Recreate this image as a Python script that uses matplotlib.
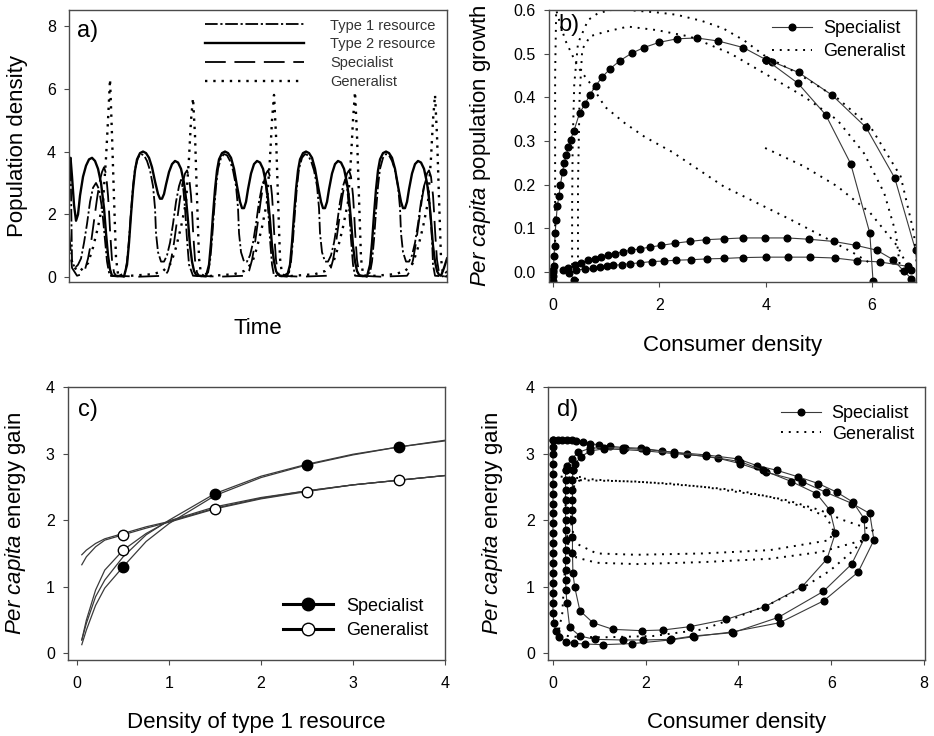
import matplotlib
matplotlib.use('Agg')
import matplotlib.pyplot as plt

plt.rcParams['font.family'] = ['Liberation Sans', 'DejaVu Sans']
plt.rcParams['mathtext.fontset'] = 'custom'
plt.rcParams['mathtext.rm'] = 'Liberation Sans'
plt.rcParams['mathtext.it'] = 'Liberation Sans:italic'

# ---------------- panel a: time series ----------------
t_type2 = [0, 1.5, 3, 5, 7, 9, 11, 14, 17, 20, 23, 26, 29, 32, 35, 37, 39, 41, 43,
           55,
           58, 60, 62, 64, 66, 68, 71, 74, 77, 80, 83, 86, 89, 91, 93, 95, 97, 100, 103, 106,
           109, 112, 115, 117, 119, 121, 123, 125, 127, 129,
           137,
           140, 142, 144, 146, 148, 150, 153, 156, 159, 162, 165, 168, 171, 173, 175, 177, 179,
           182, 185, 188, 191, 194, 197, 199, 201, 203, 205, 207, 209, 211,
           218,
           221, 223, 225, 227, 229, 231, 234, 237, 240, 243, 246, 249, 252, 254, 256, 258, 260,
           263, 266, 269, 272, 275, 278, 280, 282, 284, 286, 288, 290, 292,
           298,
           301, 303, 305, 307, 309, 311, 314, 317, 320, 323, 326, 329, 332, 334, 336, 338, 340,
           343, 346, 349, 352, 355, 358, 360, 362, 364, 366, 368, 370, 372,
           375, 378]
type2 = [2.9, 3.8, 3.2, 2.3, 1.8, 2.0, 2.6, 3.2, 3.55, 3.75, 3.8, 3.7, 3.45, 3.0, 2.2, 1.4, 0.7, 0.25, 0.05,
         0.03,
         0.4, 1.1, 2.0, 2.8, 3.4, 3.75, 3.95, 4.0, 3.95, 3.8, 3.5, 3.05, 2.65, 2.5, 2.5, 2.65, 2.95,
         3.35, 3.6, 3.7, 3.65, 3.45, 3.0, 2.5, 1.8, 1.0, 0.5, 0.2, 0.08, 0.05,
         0.03,
         0.4, 1.1, 2.0, 2.8, 3.4, 3.75, 3.95, 4.0, 3.95, 3.8, 3.45, 2.9, 2.4, 2.2, 2.2, 2.4, 2.8,
         3.3, 3.6, 3.7, 3.65, 3.45, 3.0, 2.5, 1.8, 1.0, 0.5, 0.2, 0.08, 0.05,
         0.03,
         0.4, 1.1, 2.0, 2.8, 3.4, 3.75, 3.95, 4.0, 3.95, 3.8, 3.45, 2.9, 2.4, 2.2, 2.2, 2.4, 2.8,
         3.3, 3.6, 3.7, 3.65, 3.45, 3.0, 2.5, 1.8, 1.0, 0.5, 0.2, 0.08, 0.05,
         0.03,
         0.4, 1.1, 2.0, 2.8, 3.4, 3.75, 3.95, 4.0, 3.95, 3.8, 3.45, 2.9, 2.4, 2.2, 2.2, 2.4, 2.8,
         3.3, 3.6, 3.7, 3.65, 3.45, 3.0, 2.5, 1.8, 1.0, 0.5, 0.2, 0.08, 0.05,
         0.3, 0.6]

t_type1 = [0, 1.5, 3, 6, 9, 12, 15, 18, 21, 24, 27, 30, 33, 36, 38, 40, 41,
           49, 56, 58, 60, 62, 64, 66, 69, 72, 75, 78, 81, 84, 86, 87, 89, 92, 95, 98, 101, 104,
           107, 110, 112, 114, 116, 118, 120, 124,
           132, 139, 141, 143, 145, 147, 149, 152, 155, 158, 161, 164, 167, 169, 170, 172, 175,
           178, 181, 184, 187, 190, 193, 195, 197, 199, 201, 203, 205,
           213, 220, 222, 224, 226, 228, 230, 233, 236, 239, 242, 245, 248, 250, 251, 253, 256,
           259, 262, 265, 268, 271, 274, 276, 278, 280, 282, 284, 286,
           294, 301, 303, 305, 307, 309, 311, 314, 317, 320, 323, 326, 329, 331, 332, 334, 337,
           340, 343, 346, 349, 352, 355, 357, 359, 361, 363, 364, 366,
           374, 378]
type1 = [3.5, 3.8, 0.5, 0.3, 0.4, 0.6, 1.1, 1.7, 2.4, 2.85, 3.0, 2.8, 2.2, 1.2, 0.5, 0.15, 0.05,
         0.03, 0.15, 0.5, 1.2, 2.1, 2.9, 3.45, 3.8, 3.92, 3.88, 3.7, 3.4, 2.9, 2.2, 1.4, 0.8, 0.5,
         0.5, 0.7, 1.1, 1.7, 2.4, 2.9, 3.1, 2.9, 2.2, 1.2, 0.4, 0.05,
         0.03, 0.15, 0.5, 1.2, 2.1, 2.9, 3.45, 3.8, 3.92, 3.88, 3.7, 3.4, 2.9, 2.2, 1.4, 0.8, 0.5,
         0.5, 0.7, 1.1, 1.7, 2.4, 2.9, 3.1, 2.9, 2.2, 1.2, 0.4, 0.05,
         0.03, 0.15, 0.5, 1.2, 2.1, 2.9, 3.45, 3.8, 3.92, 3.88, 3.7, 3.4, 2.9, 2.2, 1.4, 0.8, 0.5,
         0.5, 0.7, 1.1, 1.7, 2.4, 2.9, 3.1, 2.9, 2.2, 1.2, 0.4, 0.05,
         0.03, 0.15, 0.5, 1.2, 2.1, 2.9, 3.45, 3.8, 3.92, 3.88, 3.7, 3.4, 2.9, 2.2, 1.4, 0.8, 0.5,
         0.5, 0.7, 1.1, 1.7, 2.4, 2.9, 3.1, 2.9, 2.2, 1.2, 0.4, 0.05,
         0.03, 0.2]

t_spec = [0, 3, 8, 13, 16, 19, 22, 25, 28, 31, 33, 35, 37, 39, 40, 41, 42, 43, 45, 47,
          70,
          96, 99, 102, 105, 108, 111, 114, 116, 118, 120, 122, 123, 124, 125, 126, 128, 130,
          150,
          177, 180, 183, 186, 189, 192, 195, 197, 199, 201, 203, 204, 205, 206, 207, 209, 211,
          232,
          258, 261, 264, 267, 270, 273, 276, 278, 280, 282, 284, 285, 286, 287, 288, 290, 292,
          312,
          338, 341, 344, 347, 350, 353, 356, 358, 360, 362, 364, 365, 366, 367, 368, 370, 372,
          378]
spec = [1.5, 0.3, 0.05, 0.1, 0.25, 0.6, 1.1, 1.8, 2.5, 3.1, 3.35, 3.5, 3.3, 2.6, 2.1, 1.5, 1.0, 0.55, 0.15, 0.05,
        0.02,
        0.05, 0.2, 0.55, 1.1, 1.8, 2.5, 3.05, 3.3, 3.4, 3.2, 2.6, 2.1, 1.5, 1.0, 0.55, 0.15, 0.05,
        0.02,
        0.05, 0.2, 0.55, 1.1, 1.8, 2.5, 3.05, 3.3, 3.4, 3.2, 2.6, 2.1, 1.5, 1.0, 0.55, 0.15, 0.05,
        0.02,
        0.05, 0.2, 0.55, 1.1, 1.8, 2.5, 3.05, 3.3, 3.4, 3.2, 2.6, 2.1, 1.5, 1.0, 0.55, 0.15, 0.05,
        0.02,
        0.05, 0.2, 0.55, 1.1, 1.8, 2.5, 3.05, 3.3, 3.4, 3.2, 2.6, 2.1, 1.5, 1.0, 0.55, 0.15, 0.05,
        0.02]

t_gen = [0, 4, 8, 11, 19, 24, 29, 34, 37, 39, 41, 43, 45, 47, 49, 53,
         84, 94, 102, 107, 112, 117, 120, 122, 124, 126, 128, 130, 132, 136,
         165, 175, 183, 188, 193, 198, 201, 203, 205, 207, 209, 211, 213, 217,
         246, 256, 264, 269, 274, 279, 282, 284, 286, 288, 290, 292, 294, 298,
         326, 336, 344, 349, 354, 359, 362, 364, 366, 368, 370, 372, 374, 378]
gen = [0.8, 0.4, 0.2, 0.2, 0.45, 0.95, 1.6, 2.4, 3.8, 5.0, 6.3, 4.5, 2.5, 0.6, 0.1, 0.03,
       0.1, 0.2, 0.45, 0.95, 1.6, 2.4, 3.8, 5.0, 5.7, 4.5, 2.5, 0.6, 0.1, 0.03,
       0.1, 0.2, 0.45, 0.95, 1.6, 2.4, 3.8, 5.0, 5.8, 4.5, 2.5, 0.6, 0.1, 0.03,
       0.1, 0.2, 0.45, 0.95, 1.6, 2.4, 3.8, 5.0, 5.9, 4.5, 2.5, 0.6, 0.1, 0.03,
       0.1, 0.2, 0.45, 0.95, 1.6, 2.4, 3.8, 5.0, 5.8, 4.5, 2.5, 0.6, 0.1, 0.03]

# ---------------- panel b: growth vs consumer density ----------------
b_spec_rise_x = [0.0, 0.0, 0.0, 0.0, 0.01, 0.02, 0.03, 0.04, 0.06, 0.08, 0.11, 0.14, 0.18, 0.21,
                 0.25, 0.29, 0.33, 0.39, 0.50, 0.60, 0.69, 0.80, 0.93, 1.08, 1.26, 1.48, 1.71,
                 2.00, 2.33, 2.70, 3.11, 3.58, 4.01]
b_spec_rise_y = [-0.02, -0.01, 0.0, 0.005, 0.013, 0.036, 0.059, 0.089, 0.12, 0.15, 0.173, 0.2, 0.23,
                 0.249, 0.268, 0.287, 0.303, 0.322, 0.364, 0.384, 0.405, 0.426, 0.447, 0.466, 0.484,
                 0.501, 0.514, 0.526, 0.534, 0.536, 0.529, 0.514, 0.486]
b_spec_outer_x = [4.01, 4.12, 4.62, 5.25, 5.89, 6.43, 6.82, 6.88]
b_spec_outer_y = [0.486, 0.482, 0.457, 0.405, 0.331, 0.215, 0.05, -0.02]
b_spec_inner_x = [4.01, 4.61, 5.13, 5.60, 5.96, 6.02]
b_spec_inner_y = [0.486, 0.432, 0.36, 0.248, 0.089, -0.02]
b_spec_low1_x = [6.74, 6.60, 6.40, 6.09, 5.70, 5.28, 4.82, 4.40, 3.98, 3.57, 3.22, 2.88, 2.57, 2.30,
                 2.04, 1.82, 1.64, 1.46, 1.31, 1.16, 1.04, 0.91, 0.79, 0.66, 0.53, 0.41, 0.28, 0.19]
b_spec_low1_y = [-0.015, 0.002, 0.028, 0.05, 0.061, 0.070, 0.075, 0.078, 0.078, 0.078, 0.076, 0.074,
                 0.070, 0.066, 0.061, 0.057, 0.053, 0.050, 0.046, 0.042, 0.039, 0.034, 0.030, 0.027,
                 0.021, 0.015, 0.009, 0.004]
b_spec_low2_x = [6.74, 6.67, 6.15, 5.72, 5.30, 4.84, 4.42, 4.01, 3.58, 3.21, 2.89, 2.59, 2.31, 2.08,
                 1.86, 1.64, 1.45, 1.29, 1.13, 1.01, 0.88, 0.75, 0.60, 0.44, 0.31, 0.40]
b_spec_low2_y = [0.004, 0.013, 0.023, 0.026, 0.032, 0.034, 0.034, 0.034, 0.033, 0.031, 0.030, 0.028,
                 0.027, 0.025, 0.024, 0.021, 0.019, 0.017, 0.015, 0.013, 0.011, 0.008, 0.007, 0.004,
                 -0.002, -0.018]

b_gen1_x = [0.36, 0.36, 0.37, 0.40, 0.47, 0.66, 0.85, 1.1, 1.4, 2.0, 2.33, 2.8, 3.2, 3.6, 3.96,
            4.6, 5.35, 5.97, 6.54, 6.79, 6.87]
b_gen1_y = [-0.02, 0.15, 0.29, 0.43, 0.524, 0.577, 0.593, 0.6, 0.6, 0.594, 0.589, 0.575, 0.558,
            0.53, 0.497, 0.455, 0.398, 0.333, 0.219, 0.089, -0.02]
b_gen2_x = [0.47, 0.47, 0.5, 0.55, 0.7, 0.98, 1.41, 1.95, 2.58, 3.33, 4.09, 4.72, 5.35, 5.85,
            6.23, 6.45, 6.54]
b_gen2_y = [-0.02, 0.2, 0.4, 0.51, 0.54, 0.55, 0.562, 0.554, 0.539, 0.501, 0.447, 0.402, 0.348,
            0.272, 0.181, 0.089, -0.002]
b_gen3_x = [0.04, 0.04, 0.04, 0.06, 0.12, 0.23, 0.47, 0.70, 0.98, 1.35, 1.73, 2.24, 3.21, 4.47,
            5.1, 5.66, 5.97]
b_gen3_y = [-0.02, 0.2, 0.45, 0.6, 0.575, 0.531, 0.469, 0.432, 0.378, 0.341, 0.309, 0.275, 0.196,
            0.12, 0.08, 0.043, 0.02]
b_gen4_x = [3.99, 4.72, 5.35, 5.97, 6.48, 6.67]
b_gen4_y = [0.284, 0.242, 0.196, 0.135, 0.059, 0.013]

# ---------------- panel c: energy gain vs resource density ----------------
c_x = [0.05, 0.1, 0.2, 0.3, 0.5, 0.75, 1.0, 1.5, 2.0, 2.5, 3.0, 3.5, 4.0]
c_spec1 = [0.13, 0.35, 0.72, 0.98, 1.3, 1.68, 1.95, 2.37, 2.64, 2.83, 2.98, 3.1, 3.19]
c_spec2 = [0.2, 0.45, 0.85, 1.1, 1.45, 1.78, 2.0, 2.4, 2.66, 2.84, 2.99, 3.1, 3.2]
c_gen1 = [1.33, 1.45, 1.6, 1.7, 1.78, 1.88, 1.97, 2.17, 2.32, 2.43, 2.53, 2.6, 2.67]
c_gen2 = [1.48, 1.55, 1.65, 1.72, 1.8, 1.9, 1.98, 2.18, 2.33, 2.44, 2.53, 2.6, 2.67]
c_gen3 = [0.2, 0.5, 0.95, 1.25, 1.55, 1.8, 1.99, 2.2, 2.34, 2.44, 2.53, 2.6, 2.67]
c_spec_mk_x = [0.5, 1.5, 2.5, 3.5]
c_spec_mk_y = [1.3, 2.4, 2.83, 3.1]
c_gen_mk_x = [0.5, 0.5, 1.5, 2.5, 3.5]
c_gen_mk_y = [1.78, 1.55, 2.17, 2.43, 2.6]

# ---------------- panel d: energy gain vs consumer density ----------------
d_spec1_x = [0.0, 0.1, 0.2, 0.3, 0.4, 0.5, 0.65, 0.8, 1.0, 1.22, 1.55, 1.9, 2.35, 2.9, 3.56, 4.03,
             4.59, 5.37, 5.88, 6.45, 6.83, 6.92, 6.58, 5.84, 4.89, 3.85, 3.04, 2.52, 1.71, 1.08,
             0.68, 0.45, 0.29, 0.14, 0.06, 0.02, 0.0, 0.0, 0.0, 0.0, 0.0, 0.0, 0.0, 0.0, 0.0,
             0.0, 0.0, 0.0, 0.0, 0.0, 0.0, 0.0, 0.0, 0.0, 0.0]
d_spec1_y = [3.21, 3.21, 3.21, 3.2, 3.2, 3.19, 3.17, 3.15, 3.13, 3.11, 3.09, 3.08, 3.04, 2.99, 2.93,
             2.85, 2.72, 2.58, 2.42, 2.25, 2.10, 1.70, 1.22, 0.79, 0.46, 0.32, 0.25, 0.2, 0.146,
             0.13, 0.14, 0.15, 0.17, 0.24, 0.34, 0.45, 0.6, 0.75, 0.9, 1.05, 1.2, 1.35, 1.5, 1.65,
             1.8, 1.95, 2.1, 2.25, 2.4, 2.55, 2.7, 2.85, 3.0, 3.1, 3.21]
d_spec2_x = [0.27, 0.27, 0.27, 0.27, 0.27, 0.27, 0.27, 0.27, 0.27, 0.27, 0.27, 0.27, 0.28, 0.3,
             0.36, 0.58, 0.9, 1.51, 1.94, 2.55, 3.02, 3.88, 4.86, 5.83, 6.44, 6.73, 6.71, 6.47,
             6.12, 5.72, 5.29, 4.82, 4.39, 3.99, 3.3, 2.6, 2.0, 1.5, 1.1, 0.8, 0.55, 0.4, 0.3, 0.27]
d_spec2_y = [2.75, 2.6, 2.45, 2.3, 2.15, 2.0, 1.85, 1.7, 1.55, 1.4, 1.25, 1.1, 0.95, 0.75,
             0.39, 0.26, 0.21, 0.2, 0.2, 0.21, 0.26, 0.31, 0.54, 0.93, 1.34, 1.75, 2.02, 2.27,
             2.42, 2.55, 2.65, 2.75, 2.82, 2.92, 2.98, 3.02, 3.06, 3.08, 3.09, 3.08, 3.02, 2.92,
             2.82, 2.75]
d_spec3_x = [0.43, 0.42, 0.42, 0.42, 0.42, 0.42, 0.42, 0.42, 0.43, 0.47, 0.58, 0.86, 1.29, 1.91,
             2.37, 2.95, 3.74, 4.57, 5.37, 5.91, 6.09, 5.97, 5.68, 5.14, 4.53, 4.03, 3.3, 2.6,
             2.0, 1.5, 1.1, 0.8, 0.6, 0.48, 0.43]
d_spec3_y = [2.75, 2.6, 2.45, 2.3, 2.15, 2.0, 1.75, 1.5, 1.2, 0.99, 0.64, 0.46, 0.36, 0.34,
             0.35, 0.40, 0.51, 0.70, 1.0, 1.42, 1.81, 2.15, 2.40, 2.58, 2.75, 2.88, 2.96, 3.0,
             3.04, 3.06, 3.07, 3.04, 2.95, 2.85, 2.75]

d_gen1_x = [0.0, 0.07, 1.08, 2.52, 3.96, 5.04, 5.76, 6.26, 6.9, 6.69, 5.76, 4.68, 3.24, 1.8,
            0.94, 0.5, 0.32, 0.28, 0.27, 0.27, 0.3, 0.4, 0.6]
d_gen1_y = [2.67, 2.66, 2.6, 2.55, 2.45, 2.3, 2.15, 2.0, 1.85, 1.7, 1.52, 1.42, 1.37, 1.34,
            1.36, 1.44, 1.65, 2.0, 2.3, 2.5, 2.6, 2.64, 2.65]
d_gen2_x = [0.58, 1.8, 3.24, 4.68, 5.4, 5.9, 6.04, 5.97, 4.68, 3.24, 1.8, 0.94, 0.5, 0.4, 0.38,
            0.4, 0.5, 0.58]
d_gen2_y = [2.6, 2.58, 2.5, 2.35, 2.2, 2.05, 1.85, 1.70, 1.55, 1.5, 1.48, 1.5, 1.65, 1.9, 2.2,
            2.45, 2.56, 2.6]
d_gen3_x = [0.25, 0.2, 0.11, 0.4, 1.08, 2.16, 3.24, 3.96, 4.68, 5.4, 5.97, 6.47, 6.69]
d_gen3_y = [1.2, 0.6, 0.29, 0.25, 0.24, 0.26, 0.36, 0.54, 0.74, 0.99, 1.24, 1.54, 1.7]


spine_col = '#4a4a4a'
line_col = '#3a3a3a'
dotted = (0, (1, 3))
dashdot = (0, (7, 1.5, 1.2, 1.5))
longdash = (0, (11.5, 4.8))


def style_axes(ax):
    for s in ax.spines.values():
        s.set_color(spine_col)
        s.set_linewidth(1.0)
    ax.tick_params(direction='out', length=3.5, width=0.8, color=spine_col,
                   labelsize=11.5, top=False, right=False)
    ax.tick_params(axis='x', pad=8)
    ax.tick_params(axis='y', pad=6)


fig = plt.figure(figsize=(9.34, 7.36), dpi=100)
ax_a = fig.add_axes([0.0739, 0.6168, 0.4047, 0.3696])
ax_b = fig.add_axes([0.5878, 0.6168, 0.3930, 0.3696])
ax_c = fig.add_axes([0.0728, 0.1033, 0.4036, 0.3709])
ax_d = fig.add_axes([0.5867, 0.1033, 0.4036, 0.3709])

# ---- a ----
ax = ax_a
ax.plot(t_type1, type1, color='black', lw=1.3, ls=dashdot, label='Type 1 resource')
ax.plot(t_type2, type2, color='black', lw=1.7, ls='-', label='Type 2 resource')
ax.plot(t_spec, spec, color='black', lw=1.3, ls=longdash, label='Specialist')
ax.plot(t_gen, gen, color='black', lw=1.7, ls=(0, (1, 2.5)), label='Generalist')
ax.set_xlim(0, 378)
ax.set_ylim(-0.15, 8.5)
ax.set_yticks([0, 2, 4, 6, 8])
ax.set_xticks([])
style_axes(ax)
ax.set_ylabel('Population density', fontsize=16)
ax.yaxis.set_label_coords(-0.108, 0.5)
ax.set_xlabel('Time', fontsize=16, va='top')
ax.xaxis.set_label_coords(0.5, -0.132)
ax.text(0.021, 0.965, 'a)', transform=ax.transAxes, fontsize=17, va='top', ha='left')
leg = ax.legend(loc='upper right', bbox_to_anchor=(0.985, 0.99), frameon=False, fontsize=10.5,
                handlelength=6.8, handletextpad=1.8, labelspacing=0.33, borderaxespad=0.0)
for txt in leg.get_texts():
    txt.set_color('#333333')

# ---- b ----
ax = ax_b
mk = dict(color=line_col, lw=0.8, marker='o', ms=4.8, mfc='black', mec='black')
ax.plot(b_spec_rise_x, b_spec_rise_y, label='Specialist', **mk)
ax.plot(b_spec_outer_x, b_spec_outer_y, **mk)
ax.plot(b_spec_inner_x, b_spec_inner_y, **mk)
ax.plot(b_spec_low1_x, b_spec_low1_y, **mk)
ax.plot(b_spec_low2_x, b_spec_low2_y, **mk)
gd = dict(color='black', lw=1.4, ls=dotted)
ax.plot(b_gen1_x, b_gen1_y, label='Generalist', **gd)
ax.plot(b_gen2_x, b_gen2_y, **gd)
ax.plot(b_gen3_x, b_gen3_y, **gd)
ax.plot(b_gen4_x, b_gen4_y, **gd)
ax.set_xlim(-0.075, 6.83)
ax.set_ylim(-0.023, 0.6)
ax.set_xticks([0, 2, 4, 6])
ax.set_yticks([0.0, 0.1, 0.2, 0.3, 0.4, 0.5, 0.6])
ax.set_yticklabels(['0.0', '0.1', '0.2', '0.3', '0.4', '0.5', '0.6'])
style_axes(ax)
ax.set_ylabel(r'$\it{Per\ capita}$ population growth', fontsize=16)
ax.yaxis.set_label_coords(-0.153, 0.5)
ax.set_xlabel('Consumer density', fontsize=16, va='top')
ax.xaxis.set_label_coords(0.5, -0.195)
ax.text(0.025, 0.985, 'b)', transform=ax.transAxes, fontsize=17, va='top', ha='left')
ax.legend(loc='upper right', bbox_to_anchor=(0.99, 0.99), frameon=False, fontsize=13,
          handlelength=2.2, handletextpad=0.6, labelspacing=0.36, borderaxespad=0.0,
          numpoints=1)

# ---- c ----
ax = ax_c
for yy in [c_spec1, c_spec2, c_gen1, c_gen2, c_gen3]:
    ax.plot(c_x, yy, color=line_col, lw=0.9)
ax.plot(c_spec_mk_x, c_spec_mk_y, ls='none', marker='o', ms=7.5, mfc='black', mec='black')
ax.plot(c_gen_mk_x, c_gen_mk_y, ls='none', marker='o', ms=7.5, mfc='white', mec='black',
        mew=1.0)
h1, = ax.plot([], [], color='black', lw=2.2, marker='o', ms=9, mfc='black', mec='black',
              label='Specialist')
h2, = ax.plot([], [], color='black', lw=2.2, marker='o', ms=9, mfc='white', mec='black',
              label='Generalist')
ax.set_xlim(-0.1, 4.0)
ax.set_ylim(-0.1, 4.0)
ax.set_xticks([0, 1, 2, 3, 4])
ax.set_yticks([0, 1, 2, 3, 4])
style_axes(ax)
ax.set_ylabel(r'$\it{Per\ capita}$ energy gain', fontsize=16)
ax.yaxis.set_label_coords(-0.106, 0.5)
ax.set_xlabel('Density of type 1 resource', fontsize=16, va='top')
ax.xaxis.set_label_coords(0.5, -0.19)
ax.text(0.027, 0.955, 'c)', transform=ax.transAxes, fontsize=17, va='top', ha='left')
ax.legend(handles=[h1, h2], loc='lower right', bbox_to_anchor=(0.975, 0.05), frameon=False,
          fontsize=13, handlelength=2.8, handletextpad=0.7, labelspacing=0.42,
          borderaxespad=0.0, numpoints=1)

# ---- d ----
ax = ax_d
ax.plot(d_spec1_x, d_spec1_y, label='Specialist', **mk)
ax.plot(d_spec2_x, d_spec2_y, **mk)
ax.plot(d_spec3_x, d_spec3_y, **mk)
ax.plot(d_gen1_x, d_gen1_y, label='Generalist', **gd)
ax.plot(d_gen2_x, d_gen2_y, **gd)
ax.plot(d_gen3_x, d_gen3_y, **gd)
ax.set_xlim(-0.108, 8.02)
ax.set_ylim(-0.1, 4.0)
ax.set_xticks([0, 2, 4, 6, 8])
ax.set_yticks([0, 1, 2, 3, 4])
style_axes(ax)
ax.set_ylabel(r'$\it{Per\ capita}$ energy gain', fontsize=16)
ax.yaxis.set_label_coords(-0.114, 0.5)
ax.set_xlabel('Consumer density', fontsize=16, va='top')
ax.xaxis.set_label_coords(0.5, -0.19)
ax.text(0.024, 0.955, 'd)', transform=ax.transAxes, fontsize=17, va='top', ha='left')
ax.legend(loc='upper right', bbox_to_anchor=(0.99, 0.96), frameon=False, fontsize=13,
          handlelength=2.2, handletextpad=0.6, labelspacing=0.2, borderaxespad=0.0,
          numpoints=1)

fig.savefig('out.png', dpi=100)
